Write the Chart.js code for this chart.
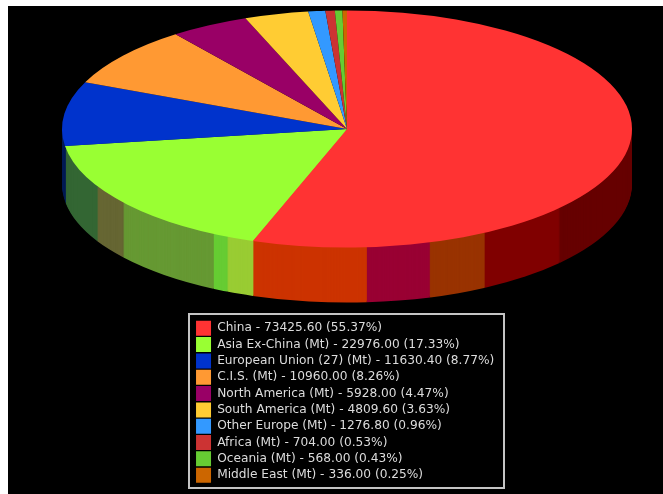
<!DOCTYPE html>
<html>
<head>
<meta charset="utf-8">
<style>
html,body{margin:0;padding:0;background:#fff;overflow:hidden;}
#c{position:absolute;left:8px;top:6px;background:#000;filter:blur(0.4px);}
</style>
<script src="https://cdn.jsdelivr.net/npm/chart.js@4"></script>
</head>
<body>
<canvas id="c" width="655" height="488"></canvas>
<script>
const regions = ['China','Asia Ex-China (Mt)','European Union (27) (Mt)','C.I.S. (Mt)','North America (Mt)','South America (Mt)','Other Europe (Mt)','Africa (Mt)','Oceania (Mt)','Middle East (Mt)'];
const amounts = [73425.60,22976.00,11630.40,10960.00,5928.00,4809.60,1276.80,704.00,568.00,336.00];
const percents = ['55.37','17.33','8.77','8.26','4.47','3.63','0.96','0.53','0.43','0.25'];
const sliceColors = ['#ff3333','#99ff33','#0033cc','#ff9933','#990066','#ffcc33','#3399ff','#cc3333','#66cc33','#cc6600'];
// Rim of the disc: angular spans (degrees clockwise from 12 o'clock) and their shades
const rimSpans = [90,41.6,19.4,12,13,23.3,5.6,3.1,23.8,9.5,19.5,9.2,90];
const rimColors = ['rgba(0,0,0,0)','#660000','#800000','#993300','#990033','#cc3300','#99cc33','#66cc33','#669933','#666633','#336633','#001a55','rgba(0,0,0,0)'];

const labels = regions.map((r,i)=>`${r} - ${amounts[i].toFixed(2)} (${percents[i]}%)`);
const RADIUS = 285, SQUASH = 0.416, DEPTH = 55, LAYER_STEP = 1;
const FRAME = {left:181,top:308,right:496,bottom:482};

const disc3d = {
  id:'disc3d',
  afterLayout(chart){
    const l = chart.legend;
    const w = l.right-l.left, h = l.bottom-l.top;
    l.left = 186.7; l.top = 313.4; l.right = l.left+w; l.bottom = l.top+h;
  },
  afterDatasetsUpdate(chart){
    chart.getSortedVisibleDatasetMetas().forEach(m=>m.data.forEach(a=>{a.innerRadius=0;a.outerRadius=RADIUS;}));
  },
  beforeDatasetDraw(chart,args){
    const ctx = chart.ctx, cy = args.meta.data[0].y;
    const apply = dy => { ctx.translate(0,cy+dy); ctx.scale(1,SQUASH); ctx.translate(0,-cy); };
    if(args.index===1){
      for(let dy=DEPTH;dy>=LAYER_STEP;dy-=LAYER_STEP){
        ctx.save(); apply(dy); args.meta.controller.draw(); ctx.restore();
      }
      return false;
    }
    ctx.save(); apply(0);
  },
  afterDatasetDraw(chart,args){ if(args.index===0) chart.ctx.restore(); },
  afterDraw(chart){
    const ctx = chart.ctx;
    ctx.save();
    ctx.strokeStyle='#c4c4c4'; ctx.lineWidth=2;
    ctx.strokeRect(FRAME.left,FRAME.top,FRAME.right-FRAME.left,FRAME.bottom-FRAME.top);
    ctx.restore();
  }
};

new Chart(document.getElementById('c'),{
  type:'pie',
  data:{
    labels,
    datasets:[
      {data:amounts,backgroundColor:sliceColors,borderWidth:0,clip:false},
      {data:rimSpans,backgroundColor:rimColors,borderWidth:0,clip:false}
    ]
  },
  options:{
    responsive:false,
    animation:false,
    radius:RADIUS,
    layout:{padding:{left:23,right:0,top:0,bottom:242}},
    plugins:{
      tooltip:{enabled:false},
      legend:{
        position:'chartArea',
        align:'start',
        labels:{
          boxWidth:15,boxHeight:15,padding:1.33,color:'#dcdcdc',
          font:{family:'"DejaVu Sans"',size:12.2}
        }
      }
    }
  },
  plugins:[disc3d]
});
</script>
</body>
</html>
